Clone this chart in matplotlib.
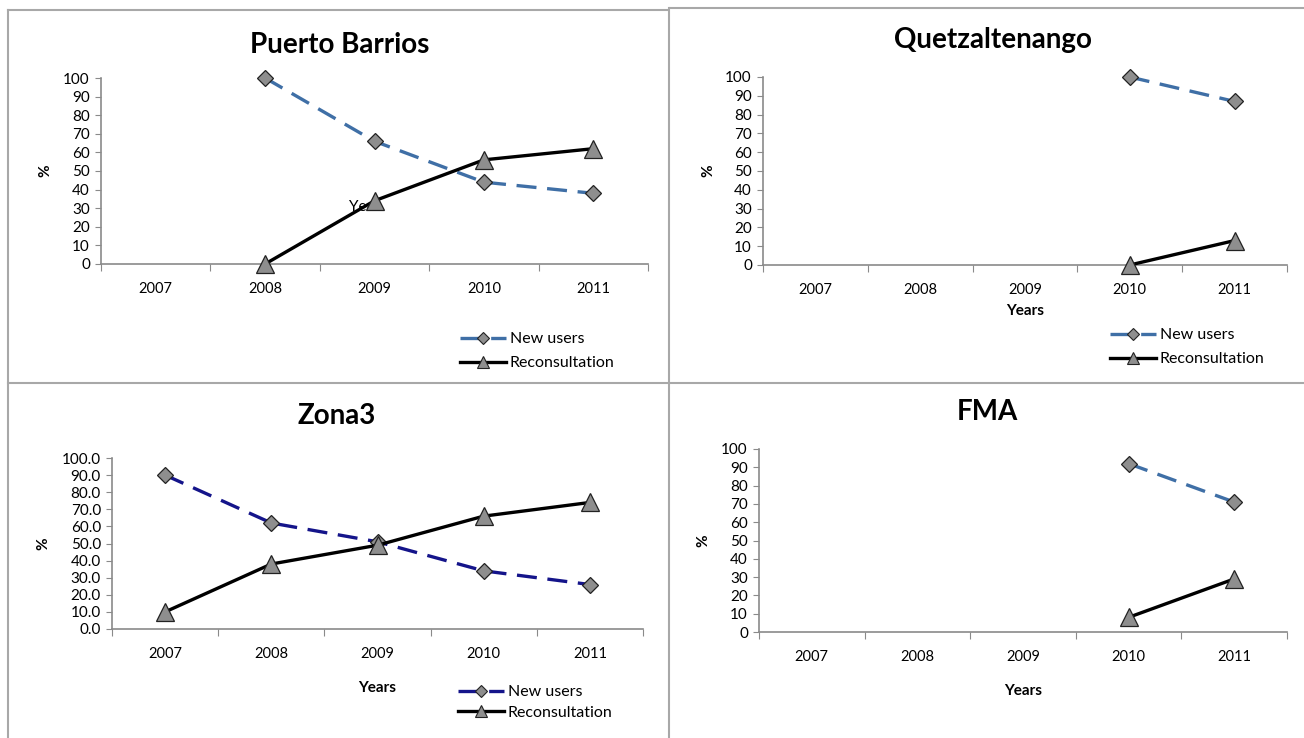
import matplotlib.pyplot as plt
from matplotlib.lines import Line2D

plt.rcParams['font.family'] = ['Lato', 'DejaVu Sans']

years = ['2007', '2008', '2009', '2010', '2011']

# New users / Reconsultation (%) per site, None = no data that year
pb_new = [None, 100, 66, 44, 38]
pb_rec = [None, 0, 34, 56, 62]
qz_new = [None, None, None, 100, 87]
qz_rec = [None, None, None, 0, 13]
z3_new = [90, 62, 51, 34, 26]
z3_rec = [10, 38, 49, 66, 74]
fma_new = [None, None, None, 92, 71]
fma_rec = [None, None, None, 8, 29]

W, H = 1304, 738
fig = plt.figure(figsize=(W / 100, H / 100), dpi=100)

def fx(px):
    return px / W

def fy(py):
    return 1 - py / H

def pts(vals):
    xs = [i for i, v in enumerate(vals) if v is not None]
    ys = [v for v in vals if v is not None]
    return xs, ys

BLUE = '#3f6fa6'
NAVY = '#14148a'
GREY = '#8e8e8e'
AXC = '#8a8a8a'

def panel(box, title, title_xy, new, rec, new_color, fmt, ylab_x, xlabel_y=None,
          legend_xy=None, legend_gap=0.62):
    l, r, t, b = box
    ax = fig.add_axes([fx(l), fy(b), fx(r) - fx(l), fy(t) - fy(b)])
    x, y = pts(new)
    ax.plot(x, y, color=new_color, lw=2.4, dashes=(6, 3.2), marker='D', ms=8,
            mfc=GREY, mec='#222222', mew=0.9, zorder=3)
    x, y = pts(rec)
    ax.plot(x, y, color='black', lw=2.4, marker='^', ms=12.5,
            mfc=GREY, mec='#222222', mew=0.9, zorder=4)
    ax.set_xlim(-0.5, 4.5)
    ax.set_ylim(0, 100)
    ax.set_yticks(range(0, 101, 10))
    ax.set_yticklabels([fmt.format(v) for v in range(0, 101, 10)])
    ax.set_xticks([i - 0.5 for i in range(6)])
    ax.set_xticklabels([])
    ax.set_xticks(range(5), minor=True)
    ax.set_xticklabels(years, minor=True)
    ax.tick_params(axis='x', which='major', length=5, color=AXC, direction='out')
    ax.tick_params(axis='x', which='minor', length=0, pad=13, labelsize=10.5)
    ax.tick_params(axis='y', length=4, color=AXC, pad=4, labelsize=11)
    for s in ['top', 'right']:
        ax.spines[s].set_visible(False)
    for s in ['left', 'bottom']:
        ax.spines[s].set_color(AXC)
        ax.spines[s].set_linewidth(1.2)
    for ln in ax.lines:
        ln.set_clip_on(False)
    fig.text(fx(title_xy[0]), fy(title_xy[1]), title, ha='center', va='center',
             fontsize=20, fontweight='bold')
    fig.text(fx(ylab_x), fy((t + b) / 2), '%', rotation=90, ha='center',
             va='center', fontsize=11, fontweight='bold')
    if xlabel_y is not None:
        fig.text(fx((l + r) / 2), fy(xlabel_y), 'Years', ha='center',
                 va='center', fontsize=11, fontweight='bold')
    if legend_xy is not None:
        handles = [
            Line2D([], [], color=new_color, lw=2.4, dashes=(6, 3.2), marker='D',
                   ms=6.5, mfc=GREY, mec='#222222', mew=0.8),
            Line2D([], [], color='black', lw=2.4, marker='^', ms=8,
                   mfc=GREY, mec='#222222', mew=0.8),
        ]
        fig.legend(handles=handles, labels=['New users', 'Reconsultation'],
                   loc='upper left',
                   bbox_to_anchor=(fx(legend_xy[0]), fy(legend_xy[1])),
                   frameon=False, fontsize=11.5, handlelength=2.9,
                   handletextpad=0.2, labelspacing=legend_gap, borderaxespad=0,
                   borderpad=0)
    return ax

ax1 = panel((101, 648, 78, 264), 'Puerto Barrios', (340, 45), pb_new, pb_rec,
            BLUE, '{:d}', 45, legend_xy=(460, 332))
# leftover axis-title text sitting behind the lines
ax1.text(2 - 0.09, 30.5, 'Year', ha='center', va='center', fontsize=11,
         zorder=1)

panel((763, 1287, 77, 265), 'Quetzaltenango', (993, 40), qz_new, qz_rec,
      BLUE, '{:d}', 708, xlabel_y=311, legend_xy=(1110, 328))
panel((112, 643, 458, 629), 'Zona3', (337, 416), z3_new, z3_rec,
      NAVY, '{:.1f}', 43, xlabel_y=688, legend_xy=(458, 685), legend_gap=0.42)
panel((759, 1287, 449, 632), 'FMA', (987, 412), fma_new, fma_rec,
      BLUE, '{:d}', 703, xlabel_y=691)

# panel frames
FR = '#a8a8a8'
for xs, ys in [((8, 8), (10, 738)), ((8, 668), (10, 10)), ((670, 1304), (8, 8)),
               ((669, 669), (8, 738)), ((8, 1304), (383, 383))]:
    fig.add_artist(Line2D([fx(v) for v in xs], [fy(v) for v in ys],
                          color=FR, lw=1.5))

fig.savefig('out.png', dpi=100, facecolor='white')
